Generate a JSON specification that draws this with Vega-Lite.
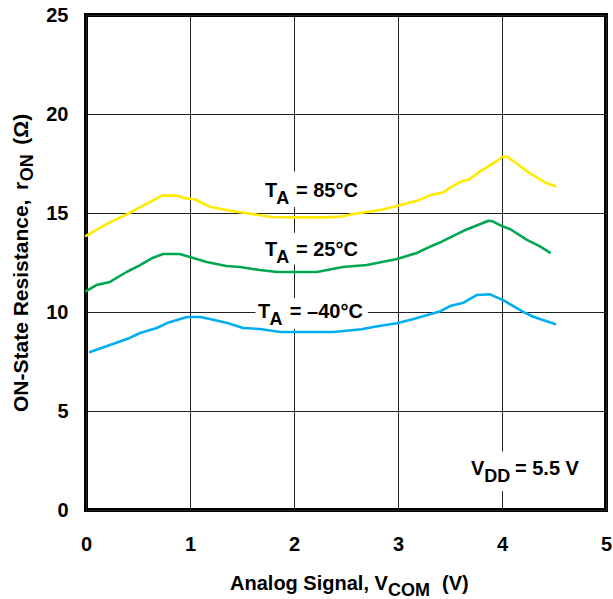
{
  "$schema": "https://vega.github.io/schema/vega-lite/v6.json",
  "width": 520,
  "height": 495,
  "autosize": {"type": "none"},
  "padding": {"left": 86, "top": 15, "right": 7, "bottom": 89},
  "background": "white",
  "config": {
    "view": {"stroke": "#000000", "strokeWidth": 4},
    "font": "Liberation Sans",
    "axis": {
      "domain": false,
      "ticks": false,
      "grid": true,
      "gridColor": "#222222",
      "gridWidth": 1,
      "gridOpacity": 1,
      "labelFont": "Liberation Sans",
      "labelFontSize": 20,
      "labelFontWeight": "bold",
      "labelColor": "#000000",
      "labelFlush": false,
      "labelOverlap": false,
      "tickCount": 6
    },
    "axisX": {"labelPadding": 24},
    "axisY": {"labelPadding": 18}
  },
  "datasets": {
    "curves": [
      {"series": "85", "v": 0.0, "r": 13.85},
      {"series": "85", "v": 0.1, "r": 14.15},
      {"series": "85", "v": 0.22, "r": 14.5},
      {"series": "85", "v": 0.4, "r": 14.95},
      {"series": "85", "v": 0.52, "r": 15.3},
      {"series": "85", "v": 0.64, "r": 15.62},
      {"series": "85", "v": 0.73, "r": 15.88},
      {"series": "85", "v": 0.87, "r": 15.88},
      {"series": "85", "v": 0.95, "r": 15.75},
      {"series": "85", "v": 1.05, "r": 15.68},
      {"series": "85", "v": 1.2, "r": 15.3},
      {"series": "85", "v": 1.4, "r": 15.1},
      {"series": "85", "v": 1.6, "r": 14.95},
      {"series": "85", "v": 1.78, "r": 14.8},
      {"series": "85", "v": 2.0, "r": 14.78},
      {"series": "85", "v": 2.3, "r": 14.78},
      {"series": "85", "v": 2.46, "r": 14.82},
      {"series": "85", "v": 2.57, "r": 14.95},
      {"series": "85", "v": 2.83, "r": 15.15},
      {"series": "85", "v": 3.0, "r": 15.37},
      {"series": "85", "v": 3.21, "r": 15.66},
      {"series": "85", "v": 3.31, "r": 15.9},
      {"series": "85", "v": 3.44, "r": 16.05},
      {"series": "85", "v": 3.5, "r": 16.28},
      {"series": "85", "v": 3.61, "r": 16.6},
      {"series": "85", "v": 3.68, "r": 16.68},
      {"series": "85", "v": 3.79, "r": 17.1},
      {"series": "85", "v": 3.95, "r": 17.62},
      {"series": "85", "v": 4.0, "r": 17.84},
      {"series": "85", "v": 4.05, "r": 17.84},
      {"series": "85", "v": 4.14, "r": 17.5},
      {"series": "85", "v": 4.27, "r": 17.0},
      {"series": "85", "v": 4.43, "r": 16.5},
      {"series": "85", "v": 4.51, "r": 16.36},

      {"series": "25", "v": 0.0, "r": 11.06},
      {"series": "25", "v": 0.1, "r": 11.36},
      {"series": "25", "v": 0.23, "r": 11.52},
      {"series": "25", "v": 0.39, "r": 12.02},
      {"series": "25", "v": 0.52, "r": 12.37},
      {"series": "25", "v": 0.64, "r": 12.73},
      {"series": "25", "v": 0.74, "r": 12.93},
      {"series": "25", "v": 0.9, "r": 12.93},
      {"series": "25", "v": 1.0, "r": 12.78},
      {"series": "25", "v": 1.16, "r": 12.53},
      {"series": "25", "v": 1.35, "r": 12.32},
      {"series": "25", "v": 1.48, "r": 12.27},
      {"series": "25", "v": 1.67, "r": 12.12},
      {"series": "25", "v": 1.84, "r": 12.02},
      {"series": "25", "v": 2.22, "r": 12.02},
      {"series": "25", "v": 2.47, "r": 12.27},
      {"series": "25", "v": 2.7, "r": 12.37},
      {"series": "25", "v": 2.99, "r": 12.68},
      {"series": "25", "v": 3.18, "r": 12.98},
      {"series": "25", "v": 3.31, "r": 13.3},
      {"series": "25", "v": 3.42, "r": 13.55},
      {"series": "25", "v": 3.63, "r": 14.1},
      {"series": "25", "v": 3.72, "r": 14.29},
      {"series": "25", "v": 3.87, "r": 14.61},
      {"series": "25", "v": 3.91, "r": 14.58},
      {"series": "25", "v": 4.0, "r": 14.34},
      {"series": "25", "v": 4.08, "r": 14.18},
      {"series": "25", "v": 4.24, "r": 13.64},
      {"series": "25", "v": 4.37, "r": 13.3},
      {"series": "25", "v": 4.46, "r": 13.0},

      {"series": "-40", "v": 0.04, "r": 7.98},
      {"series": "-40", "v": 0.23, "r": 8.33},
      {"series": "-40", "v": 0.42, "r": 8.69},
      {"series": "-40", "v": 0.52, "r": 8.94},
      {"series": "-40", "v": 0.68, "r": 9.19},
      {"series": "-40", "v": 0.78, "r": 9.44},
      {"series": "-40", "v": 0.97, "r": 9.75},
      {"series": "-40", "v": 1.1, "r": 9.75},
      {"series": "-40", "v": 1.19, "r": 9.65},
      {"series": "-40", "v": 1.36, "r": 9.44},
      {"series": "-40", "v": 1.51, "r": 9.19},
      {"series": "-40", "v": 1.67, "r": 9.14},
      {"series": "-40", "v": 1.87, "r": 8.99},
      {"series": "-40", "v": 2.38, "r": 8.99},
      {"series": "-40", "v": 2.65, "r": 9.13},
      {"series": "-40", "v": 2.76, "r": 9.24},
      {"series": "-40", "v": 2.99, "r": 9.43},
      {"series": "-40", "v": 3.15, "r": 9.65},
      {"series": "-40", "v": 3.4, "r": 10.02},
      {"series": "-40", "v": 3.5, "r": 10.3},
      {"series": "-40", "v": 3.63, "r": 10.47},
      {"series": "-40", "v": 3.76, "r": 10.86},
      {"series": "-40", "v": 3.88, "r": 10.9},
      {"series": "-40", "v": 4.01, "r": 10.6},
      {"series": "-40", "v": 4.2, "r": 10.02},
      {"series": "-40", "v": 4.3, "r": 9.76},
      {"series": "-40", "v": 4.51, "r": 9.39}
    ],
    "boxes": [
      {"v": 1.64, "v2": 2.76, "r": 15.3, "r2": 17.1},
      {"v": 1.64, "v2": 2.76, "r": 12.4, "r2": 14.0},
      {"v": 1.63, "v2": 2.71, "r": 9.15, "r2": 10.7},
      {"v": 3.64, "v2": 4.85, "r": 0.95, "r2": 2.95}
    ],
    "texts": [
      {"kind": "main", "v": 1.721, "r": 15.81, "t": "T"},
      {"kind": "sub", "v": 1.83, "r": 15.81, "t": "A"},
      {"kind": "main", "v": 2.019, "r": 15.81, "t": "= 85°C"},
      {"kind": "main", "v": 1.721, "r": 12.83, "t": "T"},
      {"kind": "sub", "v": 1.83, "r": 12.83, "t": "A"},
      {"kind": "main", "v": 2.019, "r": 12.83, "t": "= 25°C"},
      {"kind": "main", "v": 1.654, "r": 9.7, "t": "T"},
      {"kind": "sub", "v": 1.765, "r": 9.7, "t": "A"},
      {"kind": "main", "v": 1.96, "r": 9.7, "t": "= –40°C"},
      {"kind": "main", "v": 3.702, "r": 1.77, "t": "V"},
      {"kind": "sub", "v": 3.83, "r": 1.77, "t": "DD"},
      {"kind": "main", "v": 4.125, "r": 1.77, "t": "= 5.5 V"},
      {"kind": "xt", "v": 1.385, "r": -4.02, "t": "Analog Signal, V"},
      {"kind": "xts", "v": 2.904, "r": -4.02, "t": "COM"},
      {"kind": "xt", "v": 3.423, "r": -4.02, "t": "(V)"},
      {"kind": "yt", "v": -0.615, "r": 4.95, "t": "ON-State Resistance,"},
      {"kind": "yt", "v": -0.615, "r": 16.16, "t": "r"},
      {"kind": "yts", "v": -0.615, "r": 16.6, "t": "ON"},
      {"kind": "yt", "v": -0.615, "r": 18.45, "t": "(Ω)"}
    ]
  },
  "layer": [
    {
      "data": {"name": "boxes"},
      "mark": {"type": "rect", "fill": "white", "stroke": null},
      "encoding": {
        "x": {"field": "v", "type": "quantitative", "scale": {"domain": [0, 5], "nice": false, "zero": false}, "title": null},
        "x2": {"field": "v2"},
        "y": {"field": "r", "type": "quantitative", "scale": {"domain": [0, 25], "nice": false}, "title": null},
        "y2": {"field": "r2"}
      }
    },
    {
      "data": {"name": "curves"},
      "mark": {"type": "line", "strokeWidth": 2.6, "strokeJoin": "round", "strokeCap": "round"},
      "encoding": {
        "x": {"field": "v", "type": "quantitative", "scale": {"domain": [0, 5], "nice": false, "zero": false}, "title": null},
        "y": {"field": "r", "type": "quantitative", "scale": {"domain": [0, 25], "nice": false}, "title": null},
        "color": {"field": "series", "type": "nominal", "scale": {"domain": ["85", "25", "-40"], "range": ["#FFEA00", "#00A651", "#00AEEF"]}, "legend": null},
        "order": {"field": "v", "type": "quantitative"}
      }
    },
    {
      "data": {"name": "texts"},
      "transform": [{"filter": "datum.kind == 'main'"}],
      "mark": {"type": "text", "align": "left", "baseline": "alphabetic", "fontSize": 20, "fontWeight": "bold", "font": "Liberation Sans", "color": "#000000"},
      "encoding": {
        "x": {"field": "v", "type": "quantitative", "title": null},
        "y": {"field": "r", "type": "quantitative", "title": null},
        "text": {"field": "t"}
      }
    },
    {
      "data": {"name": "texts"},
      "transform": [{"filter": "datum.kind == 'sub'"}],
      "mark": {"type": "text", "align": "left", "baseline": "alphabetic", "fontSize": 18, "fontWeight": "bold", "font": "Liberation Sans", "color": "#000000", "dy": 7},
      "encoding": {
        "x": {"field": "v", "type": "quantitative", "title": null},
        "y": {"field": "r", "type": "quantitative", "title": null},
        "text": {"field": "t"}
      }
    },
    {
      "data": {"name": "texts"},
      "transform": [{"filter": "datum.kind == 'xt'"}],
      "mark": {"type": "text", "align": "left", "baseline": "alphabetic", "fontSize": 20, "fontWeight": "bold", "font": "Liberation Sans", "color": "#000000"},
      "encoding": {
        "x": {"field": "v", "type": "quantitative", "title": null},
        "y": {"field": "r", "type": "quantitative", "title": null},
        "text": {"field": "t"}
      }
    },
    {
      "data": {"name": "texts"},
      "transform": [{"filter": "datum.kind == 'xts'"}],
      "mark": {"type": "text", "align": "left", "baseline": "alphabetic", "fontSize": 18, "fontWeight": "bold", "font": "Liberation Sans", "color": "#000000", "dy": 6},
      "encoding": {
        "x": {"field": "v", "type": "quantitative", "title": null},
        "y": {"field": "r", "type": "quantitative", "title": null},
        "text": {"field": "t"}
      }
    },
    {
      "data": {"name": "texts"},
      "transform": [{"filter": "datum.kind == 'yt'"}],
      "mark": {"type": "text", "align": "left", "baseline": "middle", "angle": 270, "fontSize": 21, "fontWeight": "bold", "font": "Liberation Sans", "color": "#000000"},
      "encoding": {
        "x": {"field": "v", "type": "quantitative", "title": null},
        "y": {"field": "r", "type": "quantitative", "title": null},
        "text": {"field": "t"}
      }
    },
    {
      "data": {"name": "texts"},
      "transform": [{"filter": "datum.kind == 'yts'"}],
      "mark": {"type": "text", "align": "left", "baseline": "middle", "angle": 270, "fontSize": 18, "fontWeight": "bold", "font": "Liberation Sans", "color": "#000000", "dy": 6},
      "encoding": {
        "x": {"field": "v", "type": "quantitative", "title": null},
        "y": {"field": "r", "type": "quantitative", "title": null},
        "text": {"field": "t"}
      }
    }
  ]
}
